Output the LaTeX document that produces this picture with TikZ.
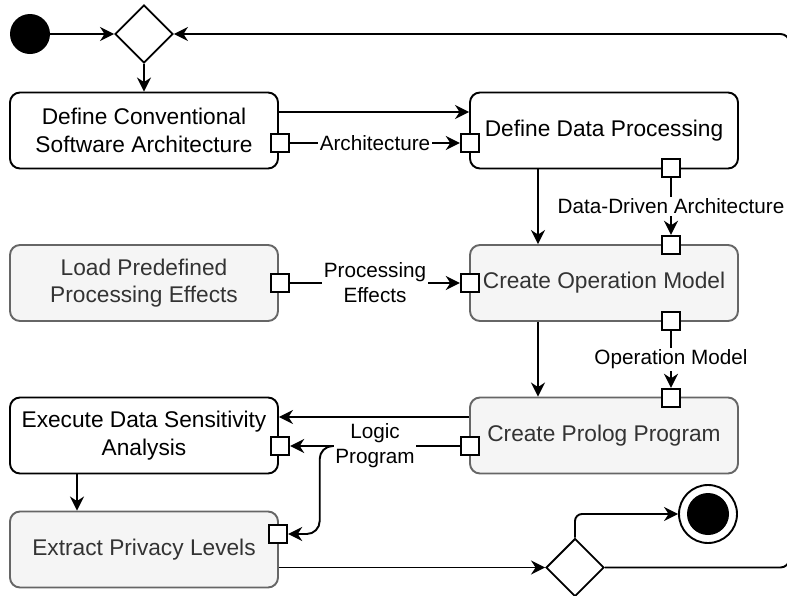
\documentclass[tikz,border=0pt]{standalone}
\usepackage{fontspec}
\setmainfont{Liberation Sans}
\usetikzlibrary{arrows.meta,shapes.geometric}
\definecolor{actfill}{HTML}{F5F5F5}
\definecolor{actline}{HTML}{666666}
\definecolor{acttext}{HTML}{333333}
\tikzset{
  lw/.style={line width=1.9pt},
  action/.style={lw, draw, rounded corners=10pt, minimum width=268pt, minimum height=76pt,
    inner sep=0pt, align=center, font=\fontsize{22.7}{27.5}\selectfont},
  plainact/.style={action, fill=white},
  greyact/.style={action, fill=actfill, draw=actline, text=acttext},
  pin/.style={lw, draw, fill=white, minimum size=18.5pt, inner sep=0pt},
  decision/.style={lw, draw, diamond, aspect=1, minimum size=58pt, inner sep=0pt, fill=white},
  flow/.style={lw, -{Stealth[length=14pt,width=14pt,inset=4.5pt]}},
  lbl/.style={fill=white, inner sep=1.5pt, align=center, font=\fontsize{20.7}{25}\selectfont},
}
\begin{document}
\begin{tikzpicture}[x=1pt,y=-1pt]
\useasboundingbox (0,0) rectangle (787,595);

% initial node and first merge
\node[circle, fill=black, minimum size=40pt, inner sep=0pt] (start) at (30,34) {};
\node[decision] (merge) at (144,34) {};

% actions
\node[plainact] (dcsa) at (144,130.5) {Define Conventional\\Software Architecture};
\node[plainact] (ddp)  at (604,130.5) {Define Data Processing};
\node[greyact]  (lppe) at (144,283) {Load Predefined\\Processing Effects};
\node[greyact]  (com)  at (604,283) {Create Operation Model};
\node[plainact] (edsa) at (144,435.5) {Execute Data Sensitivity\\Analysis};
\node[greyact]  (cpp)  at (604,435.5) {Create Prolog Program};
\node[greyact]  (epl)  at (144,549.5) {Extract Privacy Levels};

% pins
\node[pin] (pDcsaOut) at (280,143) {};
\node[pin] (pDdpIn)   at (470,143) {};
\node[pin] (pDdpOut)  at (671,168) {};
\node[pin] (pComIn)   at (671,245) {};
\node[pin] (pLppeOut) at (280,283) {};
\node[pin] (pComEff)  at (470,283) {};
\node[pin] (pComOut)  at (671,321) {};
\node[pin] (pCppIn)   at (671,398) {};
\node[pin] (pCppOut)  at (470,446) {};
\node[pin] (pEdsaIn)  at (280,446) {};
\node[pin] (pEplIn)   at (278,534) {};

% final decision and end node
\node[decision] (choice) at (575,567.5) {};
\node[circle, lw, draw, fill=white, minimum size=58pt, inner sep=0pt] (final) at (708,514) {};
\fill (final.center) circle (21pt);
\coordinate (loopB) at (789.5,567.5);
\coordinate (loopT) at (789.5,34);

% control flow
\draw[flow] (start) -- (merge);
\draw[flow] (merge) -- (dcsa);
\draw[flow] ([yshift=18.5pt]dcsa.east) -- ([yshift=18.5pt]ddp.west);
\draw[flow] ([xshift=-66pt]ddp.south) -- ([xshift=-66pt]com.north);
\draw[flow] ([xshift=-66pt]com.south) -- ([xshift=-66pt]cpp.north);
\draw[flow] ([yshift=18.5pt]cpp.west) -- ([yshift=18.5pt]edsa.east);
\draw[flow] ([xshift=-67pt]edsa.south) -- ([xshift=-67pt]epl.north);
\draw[flow] ([yshift=-18pt]epl.east) -- (choice.west);
\draw[flow, rounded corners=7pt] (choice.north) |- (final);
\draw[flow, rounded corners=9pt] (choice.east) -- (loopB) -- (loopT) -- (merge.east);

% object flow
\draw[flow] (pDcsaOut) -- node[lbl] {Architecture} (pDdpIn);
\draw[flow] (pDdpOut) -- node[lbl] {Data-Driven Architecture} (pComIn);
\draw[flow] (pLppeOut) -- node[lbl] {Processing\\Effects} (pComEff);
\draw[flow] (pComOut) -- node[lbl] {Operation Model} (pCppIn);
\draw[flow, rounded corners=13pt] (pCppOut.west) -| ([xshift=31.5pt]pEplIn.east) -- (pEplIn.east);
\draw[flow] (pCppOut) -- node[lbl] {Logic\\Program} (pEdsaIn);
\end{tikzpicture}
\end{document}
